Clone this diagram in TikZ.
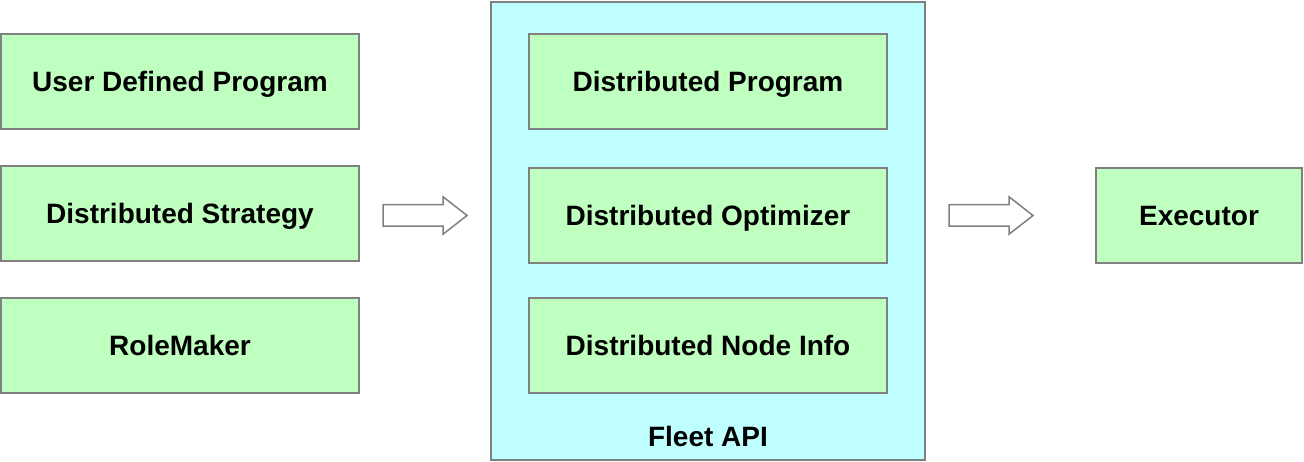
\documentclass[tikz,border=0pt]{standalone}
\usepackage{fontspec}
\setmainfont{Liberation Sans}
\usetikzlibrary{positioning,calc,shapes.arrows}
\definecolor{stage}{HTML}{BFFFC0}
\definecolor{fleetbg}{HTML}{C0FFFF}
\definecolor{edge}{HTML}{808080}

\begin{document}
\begin{tikzpicture}[
  x=1pt,y=1pt,
  node distance=37pt and 24pt,
  lbl/.style={font=\fontsize{28}{32}\selectfont\bfseries,
    text height=20pt,text depth=0pt},
  b/.style={lbl,draw=edge,line width=2pt,outer sep=0pt,align=center,
    minimum height=95pt,minimum width=358pt},
  live/.style={b,fill=stage},
  panel/.style={draw=edge,line width=2pt,fill=fleetbg,outer sep=0pt,
    minimum width=434pt,minimum height=458pt},
  blockarrow/.style={single arrow,draw=edge,line width=1.5pt,fill=white,
    inner sep=10pt,outer sep=0pt,minimum height=84pt,
    single arrow head extend=8pt,single arrow tip angle=76}
]
\useasboundingbox (0,0) rectangle (1304,462);

% inputs
\node[live] (program) at (180,380.5) {User Defined Program};
\node[live,below=of program] (strategy) {Distributed Strategy};
\node[live,below=of strategy] (rolemaker) {RoleMaker};

% fleet api
\node[panel] (fleet) at (708,231) {};
\node[live] (distprog) at (708,380.5) {Distributed Program};
\node[live,below=39pt of distprog] (optimizer) {Distributed Optimizer};
\node[live,below=35pt of optimizer] (nodeinfo) {Distributed Node Info};
\node[lbl] (fleetlabel) at ([yshift=23pt]fleet.south) {Fleet API};

% flow
\node[blockarrow,right=of strategy,yshift=-2pt] (arrowin) {};
\node[blockarrow,anchor=west] (arrowout) at ($(fleet.east |- arrowin.west)+(24,0)$) {};
\node[b,fill=stage,minimum width=206pt,right=63pt of arrowout.east]
  (executor) {Executor};
\end{tikzpicture}
\end{document}
